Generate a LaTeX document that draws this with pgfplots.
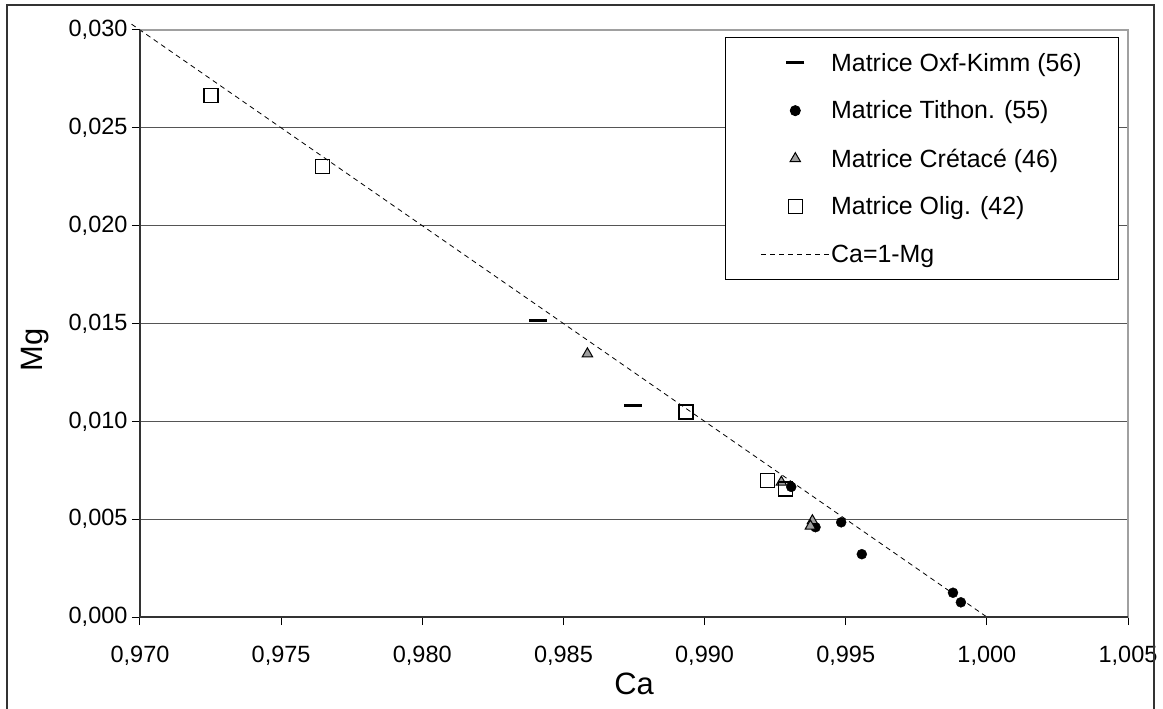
\documentclass[border=0pt]{standalone}
\usepackage{fontspec}
\setmainfont{Liberation Sans}
\usepackage{pgfplots}
\pgfplotsset{compat=1.18}
\definecolor{gridc}{HTML}{555555}
\definecolor{bordc}{HTML}{A0A0A0}
\definecolor{frame}{HTML}{333333}
\newcommand{\tl}[1]{{\fontsize{23.5bp}{28bp}\selectfont #1}}
\begin{document}
\begin{tikzpicture}
\useasboundingbox (-140bp,-92bp) rectangle (1023bp,617bp);
\fill[white] (-140bp,-92bp) rectangle (1023bp,617bp);
\begin{axis}[
  at={(0,0)}, anchor=south west,
  scale only axis, width=988bp, height=587bp,
  xmin=0.97, xmax=1.005, ymin=0, ymax=0.03,
  xtick={0.970,0.975,0.980,0.985,0.990,0.995,1.000,1.005},
  xticklabels={\tl{0,970},\tl{0,975},\tl{0,980},\tl{0,985},\tl{0,990},\tl{0,995},\tl{1,000},\tl{1,005}},
  ytick={0,0.005,0.010,0.015,0.020,0.025,0.030},
  yticklabels={\tl{0,000},\tl{0,005},\tl{0,010},\tl{0,015},\tl{0,020},\tl{0,025},\tl{0,030}},
  scaled ticks=false,
  xticklabel style={yshift=-18bp},
  yticklabel style={xshift=-1bp},
  tick pos=left, tick align=outside, major tick length=8bp,
  tick style={black, line width=1bp},
  ymajorgrids, grid style={gridc, line width=1.2bp},
  axis line style={bordc, line width=1.2bp},
  clip=false,
  xlabel={Ca}, ylabel={Mg},
  every axis x label/.style={at={(axis description cs:0.5,-0.1312)}, anchor=base, font=\fontsize{31}{36}\selectfont},
  every axis y label/.style={at={(axis description cs:-0.1063,0.455)}, rotate=90, anchor=center, font=\fontsize{31}{36}\selectfont},
  legend style={at={(axis description cs:0.592,0.988)}, anchor=north west, draw=black, line width=1bp, fill=white,
    font=\fontsize{25}{30}\selectfont, inner xsep=35.5bp, inner ysep=14bp, row sep=25.3bp,
    nodes={inner sep=1.5bp}, cells={anchor=west}},
  legend image code/.code={\draw[mark repeat=2, mark phase=2, #1] plot coordinates {(0bp,0bp) (34bp,0bp) (68bp,0bp)};},
]
\addplot[only marks, mark=-, mark size=9bp, mark options={line width=3bp, black}] coordinates {
  (0.98409,0.01513) (0.98745,0.01080)};
\addlegendentry{Matrice Oxf-Kimm (56)}
\addplot[only marks, mark=*, mark size=5bp, mark options={draw=black, fill=black}] coordinates {
  (0.99307,0.00665) (0.99393,0.00459) (0.99484,0.00484) (0.99557,0.00321) (0.99880,0.00124) (0.99908,0.00075)};
\addlegendentry{Matrice Tithon. (55)}
\addplot[only marks, mark=triangle*, mark size=6bp, mark options={draw=black, fill=gray!75, line width=1bp}] coordinates {
  (0.98585,0.01345) (0.99272,0.00689) (0.99382,0.00492) (0.99375,0.00465)};
\addlegendentry{Matrice Crétacé (46)}
\addplot[only marks, mark=square, mark size=7bp, mark options={draw=black, line width=1.3bp}] coordinates {
  (0.97252,0.02665) (0.97647,0.02302) (0.98934,0.01048) (0.99223,0.00697) (0.99286,0.00654)};
\addlegendentry{Matrice Olig. (42)}
\addplot[black, line width=0.8bp, dash pattern=on 5bp off 4bp] coordinates {(0.9697,0.0303) (1.000,0.000)};
\addlegendentry{Ca=1-Mg}
\draw[frame, line width=1.5bp] (axis description cs:0,1) -- (axis description cs:0,0) -- (axis description cs:1,0);
\end{axis}
\draw[frame, line width=2bp] (-133bp,-100bp) -- (-133bp,612bp) -- (1014bp,612bp) -- (1014bp,-100bp);
\end{tikzpicture}
\end{document}
